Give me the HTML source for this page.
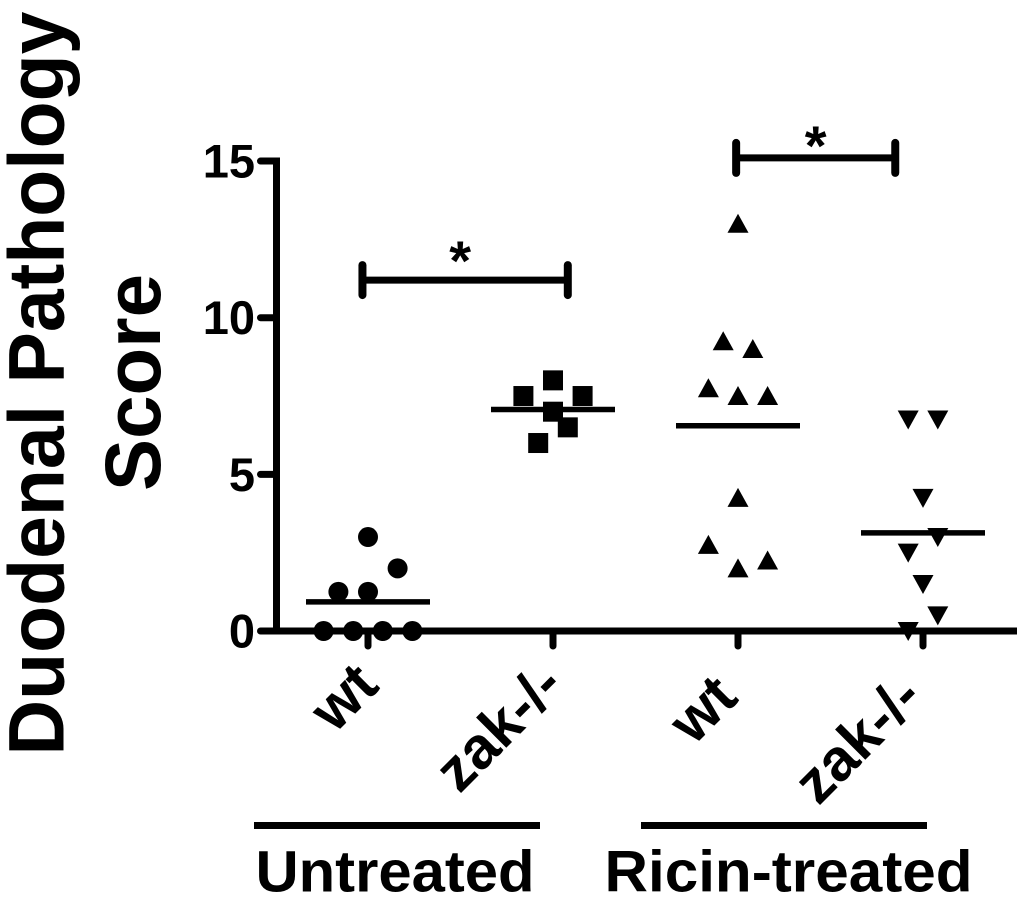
<!DOCTYPE html>
<html><head><meta charset="utf-8"><title>Duodenal Pathology Score</title>
<style>html,body{margin:0;padding:0;background:#fff}svg{display:block}text{font-family:"Liberation Sans",Arial,sans-serif;font-weight:bold;fill:#000}</style></head>
<body>
<svg id="chart" width="1024" height="901" viewBox="0 0 1024 901" xmlns="http://www.w3.org/2000/svg">
<text transform="translate(63.5,755.5) rotate(-90)" font-size="79" textLength="744" lengthAdjust="spacingAndGlyphs">Duodenal Pathology</text>
<text transform="translate(160,491) rotate(-90)" font-size="79" textLength="217" lengthAdjust="spacingAndGlyphs">Score</text>
<line x1="254" x2="540" y1="825.5" y2="825.5" stroke="#000" stroke-width="7"/>
<line x1="641" x2="927" y1="825.5" y2="825.5" stroke="#000" stroke-width="7"/>
<text x="255.5" y="891.5" font-size="58" textLength="279" lengthAdjust="spacingAndGlyphs">Untreated</text>
<text x="604.5" y="891.5" font-size="58" textLength="368" lengthAdjust="spacingAndGlyphs">Ricin-treated</text>
</svg>
<script>
const categories = ['wt', 'zak-/-', 'wt', 'zak-/-'];
const yTicks = [0, 5, 10, 15];
const circleValues = [3, 2, 1.25, 1.25, 0, 0, 0, 0];
const circleJitter = [0, 0.16, -0.16, 0, -0.24, -0.08, 0.08, 0.24];
const squareValues = [8, 7.5, 7.5, 7, 6.5, 6];
const squareJitter = [0, -0.16, 0.16, 0, 0.08, -0.08];
const triUpValues = [13, 9.25, 9, 7.75, 7.5, 7.5, 4.25, 2.75, 2, 2.25];
const triUpJitter = [0, -0.08, 0.08, -0.16, 0, 0.16, 0, -0.16, 0, 0.16];
const triDownValues = [6.75, 6.75, 4.25, 3, 2.5, 1.5, 0.5, 0];
const triDownJitter = [-0.08, 0.08, 0, 0.08, -0.08, 0, 0.08, -0.08];
const meanValues = [0.93, 7.07, 6.55, 3.13];
const brackets = [
  { from: -0.03, to: 1.08, value: 11.2 },
  { from: 1.99, to: 2.85, value: 15.1 }
];

const svg = document.getElementById('chart');
const NS = 'http://www.w3.org/2000/svg';
const xScale = c => 368 + c * 185;
const yScale = v => 631 - v * 31.33;

function mk(tag, attrs, parent) {
  const el = document.createElementNS(NS, tag);
  for (const k in attrs) el.setAttribute(k, attrs[k]);
  (parent || svg).appendChild(el);
  return el;
}

const yAxis = mk('line', { x1: 276.5, x2: 276.5, y1: yScale(15) - 3.5, y2: yScale(0), stroke: '#000', 'stroke-width': 7 });


const xAxis = mk('line', { x1: 273, x2: 1017, y1: yScale(0), y2: yScale(0), stroke: '#000', 'stroke-width': 7 });



yTicks.forEach(t => {
  const tick = mk('line', { x1: 260.5, x2: 276, y1: yScale(t), y2: yScale(t), stroke: '#000', 'stroke-width': 7, 'stroke-linecap': 'round' });
  
  
  const label = mk('text', { x: 255, y: yScale(t) + 16.5, 'text-anchor': 'end', 'font-size': 47 });
  label.textContent = t;
  
  
});

categories.forEach((name, i) => {
  const x = xScale(i);
  const tick = mk('line', { x1: x, x2: x, y1: yScale(0), y2: 646, stroke: '#000', 'stroke-width': 7, 'stroke-linecap': 'round' });
  
  
  const lx = x + (i < 2 ? 13 : 2);
  const ly = i < 2 ? 688 : 700;
  const label = mk('text', { transform: 'translate(' + lx + ',' + ly + ') rotate(-45)', 'text-anchor': 'end', 'font-size': 59 });
  label.textContent = name;
  
  
  const mean = mk('line', { x1: x - 62, x2: x + 62, y1: yScale(meanValues[i]), y2: yScale(meanValues[i]), stroke: '#000', 'stroke-width': 5.5 });
  
  
});

circleValues.forEach((v, i) => {
  const p = mk('circle', { cx: xScale(0 + circleJitter[i]), cy: yScale(v), r: 10, fill: '#000' });
  
  
});
squareValues.forEach((v, i) => {
  const x = xScale(1 + squareJitter[i]);
  const y = yScale(v);
  const p = mk('rect', { x: x - 10, y: y - 10, width: 20, height: 20, fill: '#000' });
  
  
});
triUpValues.forEach((v, i) => {
  const x = xScale(2 + triUpJitter[i]);
  const y = yScale(v);
  const p = mk('polygon', { points: [x, y - 10, x + 10.5, y + 9, x - 10.5, y + 9].join(' '), fill: '#000' });
  
  
});
triDownValues.forEach((v, i) => {
  const x = xScale(3 + triDownJitter[i]);
  const y = yScale(v);
  const p = mk('polygon', { points: [x - 10.5, y - 9, x + 10.5, y - 9, x, y + 10].join(' '), fill: '#000' });
  
  
});

brackets.forEach(b => {
  const x1 = xScale(b.from);
  const x2 = xScale(b.to);
  const y = yScale(b.value);
  const bar = mk('line', { x1: x1, x2: x2, y1: y, y2: y, stroke: '#000', 'stroke-width': 7 });
  
  
  [x1, x2].forEach(x => {
    const cap = mk('line', { x1: x, x2: x, y1: y - 15, y2: y + 15, stroke: '#000', 'stroke-width': 8, 'stroke-linecap': 'round' });
    
    
  });
  const first = b.from < 0;
  const star = mk('text', { x: (x1 + x2) / 2 - (first ? 5 : 0), y: y + (first ? 0 : 7), 'text-anchor': 'middle', 'font-size': 56 });
  star.textContent = '*';
  
  
});
</script>
</body></html>
